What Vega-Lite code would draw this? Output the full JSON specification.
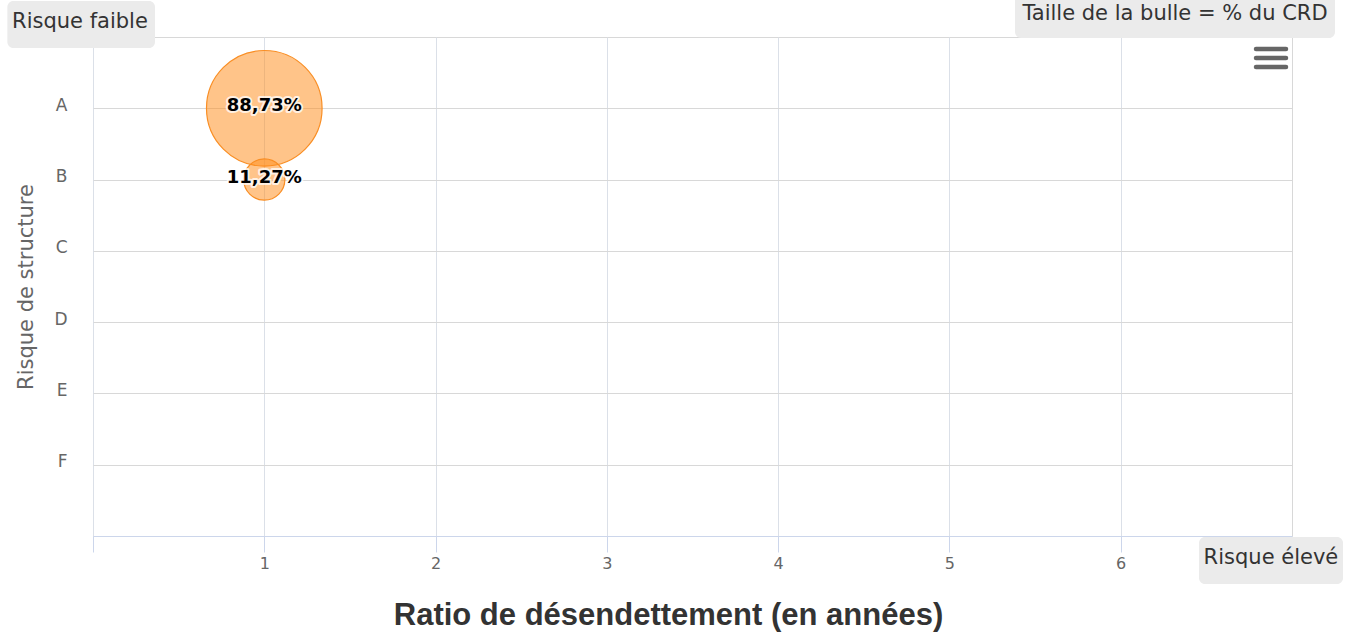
{
  "$schema": "https://vega.github.io/schema/vega-lite/v6.json",
  "width": 1199,
  "height": 499,
  "autosize": {"type": "none"},
  "padding": {"left": 93, "top": 37, "right": 53, "bottom": 99},
  "background": "white",
  "config": {
    "view": {"stroke": "#d8d8d8", "strokeWidth": 1},
    "font": "DejaVu Sans"
  },
  "datasets": {
    "bulles": [
      {"ratio": 1, "risque": "A", "rang": 1, "pct": 88.73, "libelle": "88,73%"},
      {"ratio": 1, "risque": "B", "rang": 2, "pct": 11.27, "libelle": "11,27%"}
    ],
    "boites": [
      {"texte": "Risque faible", "x1": -0.5, "x2": 0.362, "y1": -0.505, "y2": 0.154, "xt": -0.076, "yt": -0.21},
      {"texte": "Taille de la bulle = % du CRD", "x1": 5.383, "x2": 7.251, "y1": -0.62, "y2": 0.014, "xt": 6.317, "yt": -0.322},
      {"texte": "Risque élevé", "x1": 6.457, "x2": 7.298, "y1": 7.014, "y2": 7.673, "xt": 6.877, "yt": 7.309}
    ],
    "menu": [
      {"x1": 6.79, "x2": 6.965, "y": 0.168},
      {"x1": 6.79, "x2": 6.965, "y": 0.295},
      {"x1": 6.79, "x2": 6.965, "y": 0.421}
    ]
  },
  "layer": [
    {
      "data": {"name": "bulles"},
      "mark": {"type": "circle", "fill": "#ff8a14", "fillOpacity": 0.5, "stroke": "#f98e24", "strokeWidth": 1.2, "opacity": 1},
      "encoding": {
        "x": {
          "field": "ratio", "type": "quantitative", "title": "Ratio de désendettement (en années)",
          "scale": {"domain": [0, 7], "nice": false, "zero": false},
          "axis": {
            "values": [0, 1, 2, 3, 4, 5, 6],
            "labelExpr": "datum.value == 0 ? '' : format(datum.value, 'd')",
            "grid": true, "gridColor": "#dbe0e8", "gridWidth": 1,
            "domain": true, "domainColor": "#ccd6eb", "domainWidth": 1,
            "ticks": true, "tickColor": "#ccd6eb", "tickSize": 16, "tickWidth": 1,
            "labelColor": "#666666", "labelFont": "DejaVu Sans", "labelFontSize": 16, "labelPadding": 3,
            "labelFlush": false, "labelOverlap": false,
            "titleFont": "Liberation Sans", "titleFontSize": 31, "titleFontWeight": "bold", "titleColor": "#333333",
            "titleX": 575, "titleY": 88, "titleBaseline": "alphabetic", "titleAlign": "center", "titleAnchor": null
          }
        },
        "y": {
          "field": "rang", "type": "quantitative", "title": "Risque de structure",
          "scale": {"domain": [0, 7], "nice": false, "zero": false, "reverse": true},
          "axis": {
            "values": [1, 2, 3, 4, 5, 6],
            "labelExpr": "['','A','B','C','D','E','F'][datum.value]",
            "grid": true, "gridColor": "#d8d8d8", "gridWidth": 1,
            "domain": false, "ticks": false,
            "labelColor": "#666666", "labelFont": "DejaVu Sans", "labelFontSize": 17, "labelPadding": 26,
            "labelBaseline": "middle", "labelOffset": -3, "labelFlush": false, "labelOverlap": false,
            "titleFont": "DejaVu Sans", "titleFontSize": 21, "titleFontWeight": "normal", "titleColor": "#666666",
            "titleX": -67, "titleY": 249.5, "titleAngle": 270, "titleBaseline": "middle", "titleAlign": "center", "titleAnchor": null
          }
        },
        "size": {"field": "pct", "type": "quantitative", "scale": {"type": "linear", "domain": [0, 100], "range": [0, 15060]}, "legend": null}
      }
    },
    {
      "data": {"name": "bulles"},
      "mark": {"type": "text", "font": "DejaVu Sans", "fontSize": 18, "fontWeight": "bold", "align": "center", "baseline": "middle", "dy": -2, "fill": "white", "stroke": "white", "strokeWidth": 4, "strokeOpacity": 0.75, "strokeJoin": "round"},
      "encoding": {
        "x": {"field": "ratio", "type": "quantitative", "title": "Ratio de désendettement (en années)", "scale": {"domain": [0, 7], "nice": false, "zero": false}},
        "y": {"field": "rang", "type": "quantitative", "title": "Risque de structure", "scale": {"domain": [0, 7], "nice": false, "zero": false, "reverse": true}},
        "text": {"field": "libelle", "type": "nominal"}
      }
    },
    {
      "data": {"name": "bulles"},
      "mark": {"type": "text", "font": "DejaVu Sans", "fontSize": 18, "fontWeight": "bold", "align": "center", "baseline": "middle", "dy": -2, "fill": "#000000"},
      "encoding": {
        "x": {"field": "ratio", "type": "quantitative", "title": "Ratio de désendettement (en années)", "scale": {"domain": [0, 7], "nice": false, "zero": false}},
        "y": {"field": "rang", "type": "quantitative", "title": "Risque de structure", "scale": {"domain": [0, 7], "nice": false, "zero": false, "reverse": true}},
        "text": {"field": "libelle", "type": "nominal"}
      }
    },
    {
      "data": {"name": "boites"},
      "mark": {"type": "rect", "fill": "#ebebeb", "cornerRadius": 6, "stroke": null},
      "encoding": {
        "x": {"field": "x1", "type": "quantitative", "title": "Ratio de désendettement (en années)", "scale": {"domain": [0, 7], "nice": false, "zero": false}},
        "x2": {"field": "x2"},
        "y": {"field": "y1", "type": "quantitative", "title": "Risque de structure", "scale": {"domain": [0, 7], "nice": false, "zero": false, "reverse": true}},
        "y2": {"field": "y2"}
      }
    },
    {
      "data": {"name": "boites"},
      "mark": {"type": "text", "font": "DejaVu Sans", "fontSize": 21, "align": "center", "baseline": "middle", "fill": "#333333"},
      "encoding": {
        "x": {"field": "xt", "type": "quantitative", "title": "Ratio de désendettement (en années)", "scale": {"domain": [0, 7], "nice": false, "zero": false}},
        "y": {"field": "yt", "type": "quantitative", "title": "Risque de structure", "scale": {"domain": [0, 7], "nice": false, "zero": false, "reverse": true}},
        "text": {"field": "texte", "type": "nominal"}
      }
    },
    {
      "data": {"name": "menu"},
      "mark": {"type": "rule", "stroke": "#666666", "strokeWidth": 4.5, "strokeCap": "round"},
      "encoding": {
        "x": {"field": "x1", "type": "quantitative", "title": "Ratio de désendettement (en années)", "scale": {"domain": [0, 7], "nice": false, "zero": false}},
        "x2": {"field": "x2"},
        "y": {"field": "y", "type": "quantitative", "title": "Risque de structure", "scale": {"domain": [0, 7], "nice": false, "zero": false, "reverse": true}}
      }
    }
  ]
}
